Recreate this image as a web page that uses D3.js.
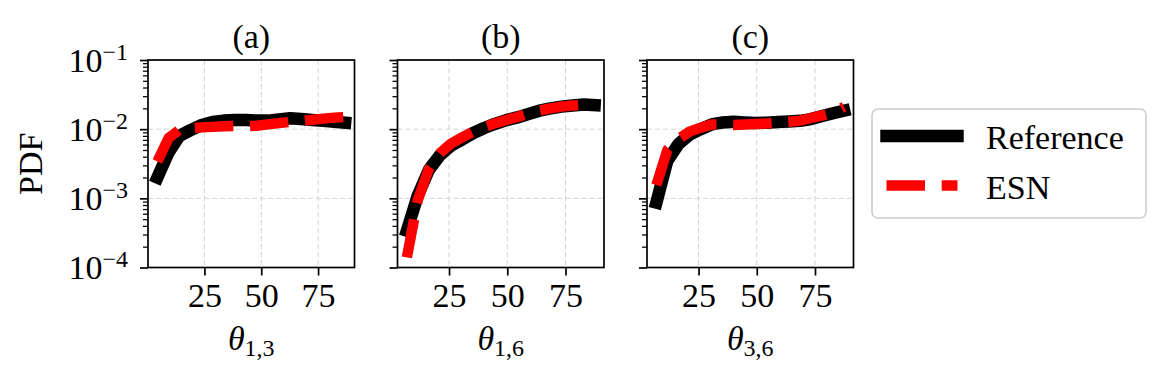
<!DOCTYPE html>
<html lang="en">
<head>
<meta charset="UTF-8">
<title>PDF of angles: Reference vs ESN</title>
<script src="https://cdnjs.cloudflare.com/ajax/libs/d3/7.8.5/d3.min.js"></script>
<style>
  body { margin: 0; background: #fff; }
  svg text { font-family: "Liberation Serif", "DejaVu Serif", serif; fill: #000; }
</style>
</head>
<body>
<div id="chart"></div>
<script>
// angle bins (degrees) and PDF values
const thetaA = [4.3, 9.2, 14.0, 18.9, 23.8, 28.6, 33.5, 38.3, 43.2, 48.1, 52.9, 57.8, 62.7, 67.5, 72.4, 77.2, 82.1, 86.9];
const refA = [2.0e-3, 4.6e-3, 8.0e-3, 9.7e-3, 1.15e-2, 1.27e-2, 1.33e-2, 1.36e-2, 1.36e-2, 1.33e-2, 1.33e-2, 1.38e-2, 1.44e-2, 1.40e-2, 1.36e-2, 1.32e-2, 1.28e-2, 1.24e-2];
const esnA = [3.4e-3, 7.4e-3, 9.8e-3, 1.03e-2, 1.06e-2, 1.08e-2, 1.10e-2, 1.11e-2, 1.10e-2, 1.12e-2, 1.17e-2, 1.22e-2, 1.27e-2, 1.31e-2, 1.36e-2, 1.42e-2, 1.47e-2, 1.50e-2];

const thetaB = [6.9, 11.6, 16.4, 21.1, 25.9, 30.6, 35.4, 40.1, 44.9, 49.6, 54.3, 59.1, 63.8, 68.6, 73.3, 78.1, 82.8, 87.5];
const refB = [3.4e-4, 1.1e-3, 2.6e-3, 4.2e-3, 5.8e-3, 7.1e-3, 8.8e-3, 1.04e-2, 1.20e-2, 1.35e-2, 1.48e-2, 1.65e-2, 1.85e-2, 2.0e-2, 2.12e-2, 2.2e-2, 2.27e-2, 2.22e-2];
const esnB = [1.4e-4, 9.5e-4, 2.7e-3, 4.5e-3, 6.2e-3, 7.6e-3, 9.2e-3, 1.07e-2, 1.22e-2, 1.36e-2, 1.50e-2, 1.68e-2, 1.86e-2, 2.0e-2, 2.12e-2, 2.2e-2, 2.26e-2, 2.2e-2];

const thetaC = [6.9, 11.6, 16.4, 21.1, 25.9, 30.6, 35.4, 40.1, 44.9, 49.6, 54.3, 59.1, 63.8, 68.6, 73.3, 78.1, 82.8, 87.5];
const refC = [8.7e-4, 3.5e-3, 6.1e-3, 8.3e-3, 1.0e-2, 1.17e-2, 1.25e-2, 1.28e-2, 1.25e-2, 1.23e-2, 1.24e-2, 1.27e-2, 1.29e-2, 1.32e-2, 1.40e-2, 1.55e-2, 1.70e-2, 1.85e-2];
const esnC = [1.56e-3, 5.0e-3, 7.2e-3, 9.2e-3, 1.05e-2, 1.17e-2, 1.17e-2, 1.15e-2, 1.17e-2, 1.19e-2, 1.21e-2, 1.24e-2, 1.28e-2, 1.33e-2, 1.45e-2, 1.58e-2, 1.75e-2, 2.1e-2];

const panelTitles = ["(a)", "(b)", "(c)"];
const panelSubs = ["1,3", "1,6", "3,6"];
const xTicks = [25, 50, 75];
const yMajor = [1e-4, 1e-3, 1e-2, 1e-1];
const yExponents = ["\u22124", "\u22123", "\u22122", "\u22121"];
const seriesNames = ["Reference", "ESN"];

// layout
const W = 1164, H = 380;
const plotTop = 60, plotBottom = 267.5, panelW = 206.5;
const lefts = [148, 397.5, 647];
const refColor = "#000000", esnColor = "#ff0000";
const refWidth = 12.5, esnWidth = 10.4, esnDash = "38.5,16.7";

const svg = d3.select("#chart").append("svg")
  .attr("width", W)
  .attr("height", H);
const defs = svg.append("defs");

const y = d3.scaleLog().domain([1e-4, 1e-1]).range([plotBottom, plotTop]);
const yMinor = y.ticks().filter(v => !yMajor.some(m => Math.abs(v - m) / m < 1e-6));

const panels = [
  {theta: thetaA, ref: refA, esn: esnA},
  {theta: thetaB, ref: refB, esn: esnB},
  {theta: thetaC, ref: refC, esn: esnC}
];

panels.forEach((p, i) => {
  const x0 = lefts[i];
  // matplotlib-style 5% margins around the data
  const ext = d3.extent(p.theta);
  const pad = 0.05 * (ext[1] - ext[0]);
  const x = d3.scaleLinear().domain([ext[0] - pad, ext[1] + pad]).range([x0, x0 + panelW]);

  const g = svg.append("g");

  defs.append("clipPath").attr("id", "clip" + i)
    .append("rect")
    .attr("x", x0).attr("y", plotTop)
    .attr("width", panelW).attr("height", plotBottom - plotTop);

  // grid
  g.append("g").selectAll("line").data(xTicks).join("line")
    .attr("x1", d => x(d)).attr("x2", d => x(d))
    .attr("y1", plotTop).attr("y2", plotBottom)
    .attr("stroke", "#d3d3d3").attr("stroke-width", 1).attr("stroke-dasharray", "5,3");
  g.append("g").selectAll("line").data(yMajor).join("line")
    .attr("x1", x0).attr("x2", x0 + panelW)
    .attr("y1", d => y(d)).attr("y2", d => y(d))
    .attr("stroke", "#d3d3d3").attr("stroke-width", 1).attr("stroke-dasharray", "5,3");

  // curves
  const line = d3.line().x((d, j) => x(p.theta[j])).y(d => y(d));
  g.append("path").datum(p.ref)
    .attr("d", line)
    .attr("fill", "none")
    .attr("stroke", refColor)
    .attr("stroke-width", refWidth)
    .attr("stroke-linecap", "square")
    .attr("stroke-linejoin", "round")
    .attr("clip-path", `url(#clip${i})`);
  g.append("path").datum(p.esn)
    .attr("d", line)
    .attr("fill", "none")
    .attr("stroke", esnColor)
    .attr("stroke-width", esnWidth)
    .attr("stroke-dasharray", esnDash)
    .attr("stroke-linecap", "butt")
    .attr("stroke-linejoin", "round")
    .attr("clip-path", `url(#clip${i})`);

  // x axis
  const xAxis = g.append("g")
    .attr("transform", `translate(0,${plotBottom})`)
    .call(d3.axisBottom(x).tickValues(xTicks).tickSize(8).tickPadding(7).tickFormat(d3.format("d")));
  xAxis.select(".domain").remove();
  xAxis.attr("font-family", null).attr("font-size", 34);
  xAxis.selectAll(".tick line").attr("stroke", "#000").attr("stroke-width", 1.7);

  // y axis: major and minor ticks
  const yAxis = g.append("g")
    .attr("transform", `translate(${x0},0)`)
    .call(d3.axisLeft(y).tickValues(yMajor).tickSize(8).tickFormat(""));
  yAxis.select(".domain").remove();
  yAxis.selectAll(".tick line").attr("stroke", "#000").attr("stroke-width", 1.7);
  const yAxisMinor = g.append("g")
    .attr("transform", `translate(${x0},0)`)
    .call(d3.axisLeft(y).tickValues(yMinor).tickSize(5).tickFormat(""));
  yAxisMinor.select(".domain").remove();
  yAxisMinor.selectAll(".tick line").attr("stroke", "#000").attr("stroke-width", 1.25);

  // only the first panel carries y labels (shared y)
  if (i === 0) {
    const lab = g.append("g").selectAll("text").data(yMajor).join("text")
      .attr("x", x0 - 20)
      .attr("y", d => y(d) + 11.5)
      .attr("text-anchor", "end")
      .attr("font-size", 34);
    lab.append("tspan").text("10");
    lab.append("tspan")
      .attr("dy", -12)
      .attr("font-size", 24)
      .text((d, j) => yExponents[j]);
  }

  // frame
  g.append("rect")
    .attr("x", x0).attr("y", plotTop)
    .attr("width", panelW).attr("height", plotBottom - plotTop)
    .attr("fill", "none").attr("stroke", "#000").attr("stroke-width", 1.7);

  // title
  g.append("text")
    .attr("x", x0 + panelW / 2).attr("y", 48)
    .attr("text-anchor", "middle")
    .attr("font-size", 34)
    .text(panelTitles[i]);

  // x label: theta with subscript
  const xl = g.append("text")
    .attr("x", x0 + panelW / 2).attr("y", 350)
    .attr("text-anchor", "middle")
    .attr("font-size", 34);
  xl.append("tspan").attr("font-style", "italic").text("\u03b8");
  xl.append("tspan").attr("font-size", 24).attr("dy", 6).text(panelSubs[i]);
});

// y label
svg.append("text")
  .attr("transform", `translate(42,${(plotTop + plotBottom) / 2}) rotate(-90)`)
  .attr("text-anchor", "middle")
  .attr("font-size", 34)
  .text("PDF");

// legend
const legend = svg.append("g");
legend.append("rect")
  .attr("x", 872).attr("y", 109)
  .attr("width", 274).attr("height", 109)
  .attr("rx", 6)
  .attr("fill", "#fff")
  .attr("stroke", "#cccccc")
  .attr("stroke-width", 1.6);

const legendRows = [
  {name: seriesNames[0], color: refColor, width: refWidth, dash: null, cap: "square", y: 136},
  {name: seriesNames[1], color: esnColor, width: esnWidth, dash: esnDash, cap: "butt", y: 185.5}
];
legendRows.forEach(r => {
  legend.append("line")
    .attr("x1", 886.5).attr("x2", 957.5)
    .attr("y1", r.y).attr("y2", r.y)
    .attr("stroke", r.color)
    .attr("stroke-width", r.width)
    .attr("stroke-linecap", r.cap)
    .attr("stroke-dasharray", r.dash);
  legend.append("text")
    .attr("x", 986).attr("y", r.y + 13)
    .attr("font-size", 34)
    .text(r.name);
});
</script>
</body>
</html>
